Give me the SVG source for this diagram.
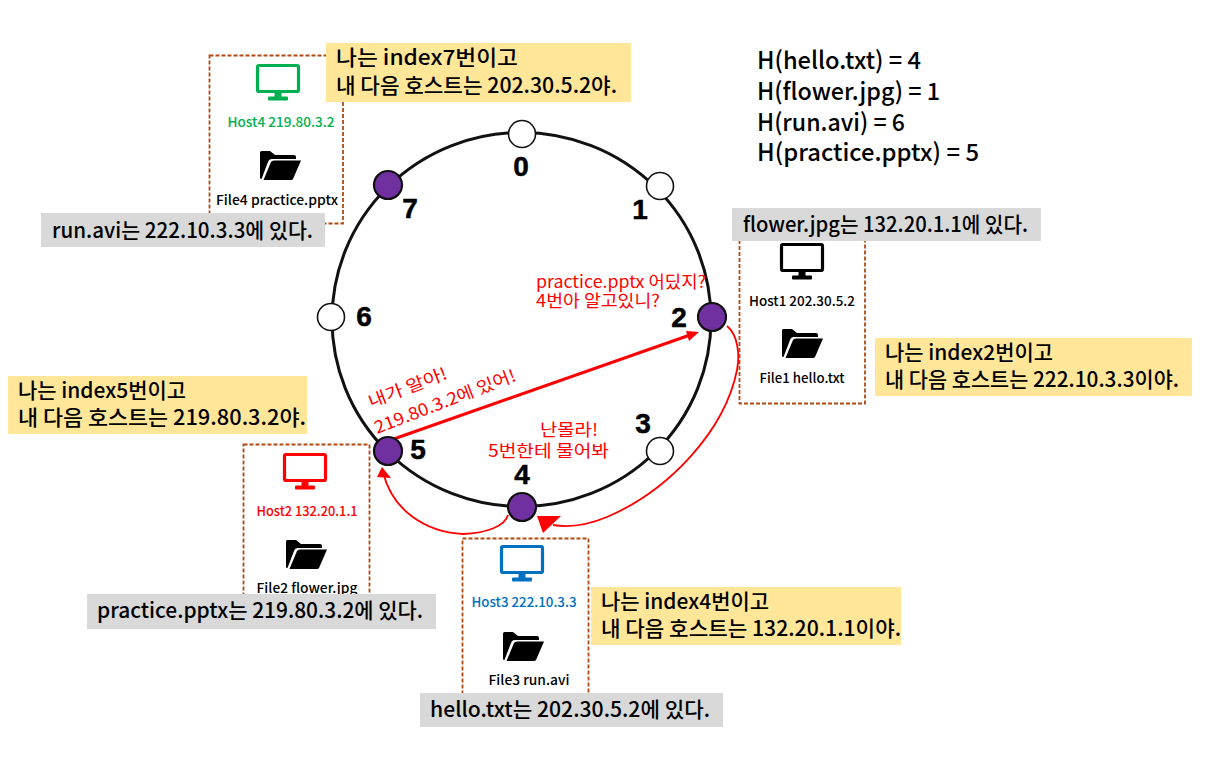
<svg xmlns="http://www.w3.org/2000/svg" width="1222" height="769" viewBox="0 0 1222 769">
<style>
text{font-family:"Noto Sans CJK KR","Noto Sans",sans-serif;fill:#000}
.y{fill:#ffe699}.g{fill:#d9d9d9}
.box{fill:none;stroke:#b04a14;stroke-width:1.8;stroke-dasharray:4 2}
.t{font-size:21px;font-weight:500}
.h{font-size:24px;font-weight:500}
.l{font-size:13.5px;font-weight:500;text-anchor:middle}
.r{font-size:17px;fill:#f00}
.n{font-family:"Liberation Sans",Arial,sans-serif;font-size:28px;font-weight:700;text-anchor:middle;stroke:#000;stroke-width:.5}
.on{fill:#7030a0;stroke:#111;stroke-width:2.2}
.off{fill:#fff;stroke:#111;stroke-width:1.6}
</style>
<defs>
<g id="mon"><rect x="1.500" y="1.500" width="41" height="26" rx="1.500" fill="none" stroke="currentColor" stroke-width="3.200"/><rect x="18.500" y="28" width="7" height="5" fill="currentColor"/><rect x="12" y="32.500" width="20" height="4" rx="1" fill="currentColor"/></g>
<g id="fold"><path d="M0 27V1.500Q0 0 1.500 0H10L15 4H34Q36 4 36 6V8H12Q9 8 8 11L1.500 28Q0 28 0 27Z"/><path d="M3.500 29L11 11Q12 9.500 14 9.500H41L33 28Q32.500 29 31 29Z"/></g>
</defs>
<g id="ring"><ellipse cx="521.500" cy="319.500" rx="189.500" ry="187" fill="none" stroke="#111" stroke-width="3"/></g>
<g id="host4-box"><rect class="box" x="209.500" y="55.500" width="133.500" height="168"/><use href="#mon" x="256" y="64" color="#00b050"/><text class="l" x="281" y="127" style="fill:#00b050" textLength="107" lengthAdjust="spacingAndGlyphs">Host4 219.80.3.2</text><use href="#fold" x="260" y="151"/><text class="l" x="277" y="205" textLength="122" lengthAdjust="spacingAndGlyphs">File4 practice.pptx</text></g>
<g id="host1-box"><rect class="box" x="739.500" y="232" width="125.500" height="171.500"/><use href="#mon" x="780" y="243" color="#000"/><text class="l" x="802" y="306" textLength="106" lengthAdjust="spacingAndGlyphs">Host1 202.30.5.2</text><use href="#fold" x="782" y="329"/><text class="l" x="802" y="383" textLength="85" lengthAdjust="spacingAndGlyphs">File1 hello.txt</text></g>
<g id="host2-box"><rect class="box" x="243.500" y="444.500" width="126" height="160"/><use href="#mon" x="283" y="453" color="#f00"/><text class="l" x="307" y="516" style="fill:#f00" textLength="101" lengthAdjust="spacingAndGlyphs">Host2 132.20.1.1</text><use href="#fold" x="286" y="540"/><text class="l" x="307" y="593" textLength="101" lengthAdjust="spacingAndGlyphs">File2 flower.jpg</text></g>
<g id="host3-box"><rect class="box" x="462.500" y="538.500" width="126" height="165"/><use href="#mon" x="500" y="545" color="#0070c0"/><text class="l" x="524" y="607" style="fill:#0070c0" textLength="105" lengthAdjust="spacingAndGlyphs">Host3 222.10.3.3</text><use href="#fold" x="503" y="632"/><text class="l" x="529" y="685" textLength="81" lengthAdjust="spacingAndGlyphs">File3 run.avi</text></g>
<g id="connectors" fill="none" stroke="#f00">
<path d="M388 441L690 335" stroke-width="3"/><path d="M699 332L686 331L689 341Z" fill="#f00" stroke="none"/>
<path d="M727 326C738 335 740 355 737 370C725 430 670 490 607 517C590 524 570 528 553 525" stroke-width="1.800"/><path d="M537 516L561 516L543 533Z" fill="#f00" stroke="none"/>
<path d="M508 515C505 526 487 533 463 534C425 532 392 510 383 472" stroke-width="1.800"/><path d="M382 467L377 477L391 478Z" fill="#f00" stroke="none"/>
</g>
<g id="node0"><circle class="off" cx="522" cy="134" r="13.500"/><text class="n" x="521" y="176">0</text></g>
<g id="node1"><circle class="off" cx="660" cy="186" r="13.500"/><text class="n" x="640" y="219">1</text></g>
<g id="node2"><circle class="on" cx="712" cy="317" r="14"/><text class="n" x="679" y="327">2</text></g>
<g id="node3"><circle class="off" cx="660" cy="451" r="13.500"/><text class="n" x="643" y="433">3</text></g>
<g id="node4"><circle class="on" cx="522" cy="507" r="14"/><text class="n" x="522" y="484">4</text></g>
<g id="node5"><circle class="on" cx="388" cy="451" r="14"/><text class="n" x="418" y="459">5</text></g>
<g id="node6"><circle class="off" cx="331" cy="317" r="13.500"/><text class="n" x="364" y="326">6</text></g>
<g id="node7"><circle class="on" cx="388" cy="185" r="14"/><text class="n" x="410" y="218">7</text></g>
<g id="note7"><rect class="y" x="326" y="43" width="305" height="59"/><text class="t" x="336" y="65" textLength="182" lengthAdjust="spacingAndGlyphs">나는 index7번이고</text><text class="t" x="336" y="93" textLength="281" lengthAdjust="spacingAndGlyphs">내 다음 호스트는 202.30.5.2야.</text></g>
<g id="note2"><rect class="y" x="875" y="338" width="317" height="58"/><text class="t" x="885" y="360" textLength="168" lengthAdjust="spacingAndGlyphs">나는 index2번이고</text><text class="t" x="885" y="387" textLength="294" lengthAdjust="spacingAndGlyphs">내 다음 호스트는 222.10.3.3이야.</text></g>
<g id="note5"><rect class="y" x="8" y="376" width="299" height="58"/><text class="t" x="18" y="398" textLength="168" lengthAdjust="spacingAndGlyphs">나는 index5번이고</text><text class="t" x="18" y="425" textLength="288" lengthAdjust="spacingAndGlyphs">내 다음 호스트는 219.80.3.2야.</text></g>
<g id="note4"><rect class="y" x="591" y="587" width="310" height="58"/><text class="t" x="601" y="609" textLength="168" lengthAdjust="spacingAndGlyphs">나는 index4번이고</text><text class="t" x="601" y="636" textLength="300" lengthAdjust="spacingAndGlyphs">내 다음 호스트는 132.20.1.1이야.</text></g>
<g id="loc1"><rect class="g" x="41" y="213" width="284" height="34"/><text class="t" x="52" y="238" textLength="261" lengthAdjust="spacingAndGlyphs">run.avi는 222.10.3.3에 있다.</text></g>
<g id="loc2"><rect class="g" x="732" y="208" width="309" height="33"/><text class="t" x="743" y="232" textLength="285" lengthAdjust="spacingAndGlyphs">flower.jpg는 132.20.1.1에 있다.</text></g>
<g id="loc3"><rect class="g" x="87" y="594" width="349" height="35"/><text class="t" x="97" y="618" textLength="326" lengthAdjust="spacingAndGlyphs">practice.pptx는 219.80.3.2에 있다.</text></g>
<g id="loc4"><rect class="g" x="420" y="693" width="303" height="34"/><text class="t" x="430" y="717" textLength="280" lengthAdjust="spacingAndGlyphs">hello.txt는 202.30.5.2에 있다.</text></g>
<g id="hashes"><text class="h" x="757" y="69" textLength="164" lengthAdjust="spacingAndGlyphs">H(hello.txt) = 4</text><text class="h" x="757" y="100" textLength="183" lengthAdjust="spacingAndGlyphs">H(flower.jpg) = 1</text><text class="h" x="757" y="131" textLength="148" lengthAdjust="spacingAndGlyphs">H(run.avi) = 6</text><text class="h" x="757" y="161" textLength="222" lengthAdjust="spacingAndGlyphs">H(practice.pptx) = 5</text></g>
<g id="talk">
<text class="r" x="536" y="288" textLength="170" lengthAdjust="spacingAndGlyphs">practice.pptx 어딨지?</text><text class="r" x="536" y="307" textLength="124" lengthAdjust="spacingAndGlyphs">4번아 알고있니?</text>
<text class="r" x="540" y="436" textLength="58" lengthAdjust="spacingAndGlyphs">난몰라!</text><text class="r" x="488" y="457" textLength="121" lengthAdjust="spacingAndGlyphs">5번한테 물어봐</text>
<text class="r" transform="translate(371 408) rotate(-21)" textLength="83" lengthAdjust="spacingAndGlyphs">내가 알아!</text><text class="r" transform="translate(377 434) rotate(-21)" textLength="150" lengthAdjust="spacingAndGlyphs">219.80.3.2에 있어!</text>
</g>
</svg>
